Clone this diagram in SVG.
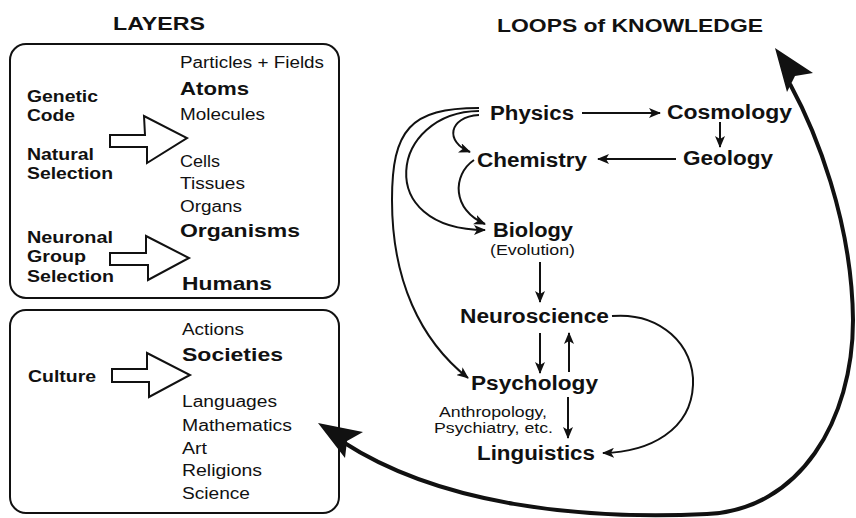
<svg xmlns="http://www.w3.org/2000/svg" width="856" height="518" viewBox="0 0 856 518">
<style>
text{font-family:"Liberation Sans",Arial,Helvetica,sans-serif;fill:#111}
.t{font-weight:bold;font-size:18px}
.lb{font-weight:bold;font-size:16px}
.it{font-size:16px}
.big{font-weight:bold;font-size:19px}
.n{font-weight:bold;font-size:20px}
.s{font-size:15px}
.box{fill:none;stroke:#111;stroke-width:2}
.blk{fill:#fff;stroke:#111;stroke-width:2;stroke-linejoin:miter}
.c{fill:none;stroke:#111;stroke-width:2}
.thick{fill:none;stroke:#111;stroke-width:4}
</style>
<defs>
<marker id="ah" markerUnits="userSpaceOnUse" viewBox="0 0 12 10" markerWidth="12" markerHeight="10" refX="11" refY="5" orient="auto">
<path d="M0,0 L12,5 L0,10 L3,5 z" fill="#111"/>
</marker>
</defs>
<rect width="856" height="518" fill="#fff"/>

<g id="title-layers"><text class="t" x="113" y="30" textLength="92" lengthAdjust="spacingAndGlyphs">LAYERS</text></g>
<g id="title-loops"><text class="t" x="497" y="32" textLength="266" lengthAdjust="spacingAndGlyphs">LOOPS of KNOWLEDGE</text></g>

<g id="layers-box">
<rect class="box" x="10" y="44" width="329" height="254" rx="16"/>
<text class="it" x="180" y="68" textLength="144" lengthAdjust="spacingAndGlyphs">Particles + Fields</text>
<text class="big" x="180" y="95" textLength="69" lengthAdjust="spacingAndGlyphs">Atoms</text>
<text class="it" x="180" y="120" textLength="85" lengthAdjust="spacingAndGlyphs">Molecules</text>
<text class="it" x="180" y="167" textLength="40" lengthAdjust="spacingAndGlyphs">Cells</text>
<text class="it" x="180" y="189" textLength="65" lengthAdjust="spacingAndGlyphs">Tissues</text>
<text class="it" x="180" y="212" textLength="62" lengthAdjust="spacingAndGlyphs">Organs</text>
<text class="big" x="180" y="237" textLength="120" lengthAdjust="spacingAndGlyphs">Organisms</text>
<text class="big" x="182" y="290" textLength="90" lengthAdjust="spacingAndGlyphs">Humans</text>
<text class="lb" x="27" y="102" textLength="71" lengthAdjust="spacingAndGlyphs">Genetic</text>
<text class="lb" x="27" y="121" textLength="48" lengthAdjust="spacingAndGlyphs">Code</text>
<text class="lb" x="27" y="160" textLength="67" lengthAdjust="spacingAndGlyphs">Natural</text>
<text class="lb" x="27" y="179" textLength="86" lengthAdjust="spacingAndGlyphs">Selection</text>
<text class="lb" x="27" y="243" textLength="86" lengthAdjust="spacingAndGlyphs">Neuronal</text>
<text class="lb" x="27" y="262" textLength="59" lengthAdjust="spacingAndGlyphs">Group</text>
<text class="lb" x="27" y="282" textLength="87" lengthAdjust="spacingAndGlyphs">Selection</text>
<polygon class="blk" points="110,135 145,135 144,116 187,138 147,163 147,147 110,147"/>
<polygon class="blk" points="110,253 146,253 146,236 189,258 148,280 148,265 110,265"/>
</g>

<g id="culture-box">
<rect class="box" x="10" y="310" width="329" height="203" rx="16"/>
<text class="it" x="182" y="335" textLength="62" lengthAdjust="spacingAndGlyphs">Actions</text>
<text class="big" x="182" y="361" textLength="101" lengthAdjust="spacingAndGlyphs">Societies</text>
<text class="lb" x="28" y="382" textLength="68" lengthAdjust="spacingAndGlyphs">Culture</text>
<text class="it" x="182" y="407" textLength="95" lengthAdjust="spacingAndGlyphs">Languages</text>
<text class="it" x="182" y="431" textLength="110" lengthAdjust="spacingAndGlyphs">Mathematics</text>
<text class="it" x="182" y="454" textLength="25" lengthAdjust="spacingAndGlyphs">Art</text>
<text class="it" x="182" y="476" textLength="80" lengthAdjust="spacingAndGlyphs">Religions</text>
<text class="it" x="182" y="499" textLength="68" lengthAdjust="spacingAndGlyphs">Science</text>
<polygon class="blk" points="112,369 147,369 147,353 190,375 149,397 149,382 112,382"/>
</g>

<g id="physics"><text class="n" x="490" y="120" textLength="84" lengthAdjust="spacingAndGlyphs">Physics</text></g>
<g id="cosmology"><text class="n" x="667" y="119" textLength="125" lengthAdjust="spacingAndGlyphs">Cosmology</text></g>
<g id="geology"><text class="n" x="683" y="165" textLength="90" lengthAdjust="spacingAndGlyphs">Geology</text></g>
<g id="chemistry"><text class="n" x="477" y="167" textLength="110" lengthAdjust="spacingAndGlyphs">Chemistry</text></g>
<g id="biology">
<text class="n" x="493" y="237" textLength="80" lengthAdjust="spacingAndGlyphs">Biology</text>
<text class="s" x="490" y="255" font-size="14" textLength="85" lengthAdjust="spacingAndGlyphs">(Evolution)</text>
</g>
<g id="neuroscience"><text class="n" x="460" y="323" textLength="149" lengthAdjust="spacingAndGlyphs">Neuroscience</text></g>
<g id="psychology">
<text class="n" x="471" y="390" textLength="127" lengthAdjust="spacingAndGlyphs">Psychology</text>
<text class="s" x="439" y="417" textLength="108" lengthAdjust="spacingAndGlyphs">Anthropology,</text>
<text class="s" x="434" y="433" textLength="119" lengthAdjust="spacingAndGlyphs">Psychiatry, etc.</text>
</g>
<g id="linguistics"><text class="n" x="477" y="460" textLength="118" lengthAdjust="spacingAndGlyphs">Linguistics</text></g>

<g id="connectors">
<path class="c" d="M582,113 L660,113" marker-end="url(#ah)"/>
<path class="c" d="M720,122 L720,147" marker-end="url(#ah)"/>
<path class="c" d="M676,159 L598,159" marker-end="url(#ah)"/>
<path class="c" d="M479,115 C448,117 445,142 470,152" marker-end="url(#ah)"/>
<path class="c" d="M479,111 C390,112 372,230 485,230" marker-end="url(#ah)"/>
<path class="c" d="M479,108 C410,108 392,130 392,200 C392,280 420,340 468,378" marker-end="url(#ah)"/>
<path class="c" d="M474,160 C452,175 452,210 485,224" marker-end="url(#ah)"/>
<path class="c" d="M540,262 L540,302" marker-end="url(#ah)"/>
<path class="c" d="M540,333 L540,373" marker-end="url(#ah)"/>
<path class="c" d="M569,372 L569,333" marker-end="url(#ah)"/>
<path class="c" d="M568,397 L568,438" marker-end="url(#ah)"/>
<path class="c" d="M612,316 C660,312 695,345 693,385 C691,430 650,452 603,453" marker-end="url(#ah)"/>
<path class="thick" d="M343,442 C440,505 580,520 707,514 C800,510 853,420 853,320 C852,220 815,130 790,84"/>
<polygon fill="#111" points="775,48 813,73 795,76 787,92"/>
<polygon fill="#111" points="318,423 363,432 347,441 345,458"/>
</g>
</svg>
